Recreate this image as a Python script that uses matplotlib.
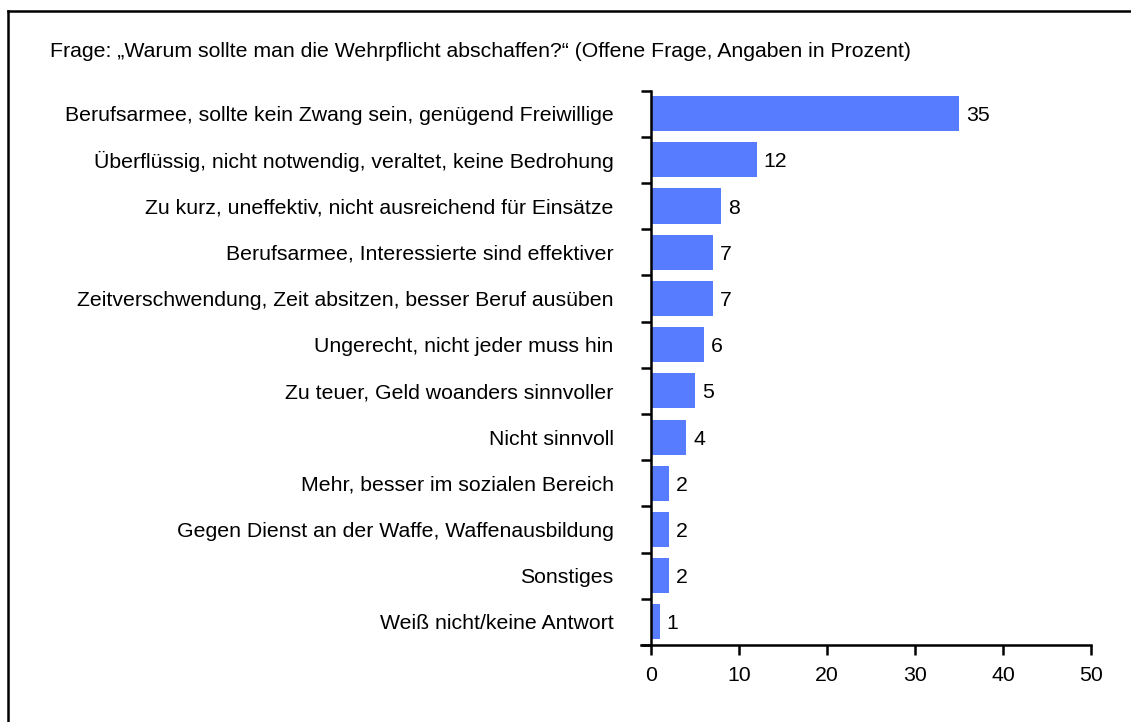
import matplotlib.pyplot as plt
from matplotlib.lines import Line2D
import numpy as np

plt.rcParams['font.family'] = ['Liberation Sans', 'DejaVu Sans']

categories = [
    'Berufsarmee, sollte kein Zwang sein, genügend Freiwillige',
    'Überflüssig, nicht notwendig, veraltet, keine Bedrohung',
    'Zu kurz, uneffektiv, nicht ausreichend für Einsätze',
    'Berufsarmee, Interessierte sind effektiver',
    'Zeitverschwendung, Zeit absitzen, besser Beruf ausüben',
    'Ungerecht, nicht jeder muss hin',
    'Zu teuer, Geld woanders sinnvoller',
    'Nicht sinnvoll',
    'Mehr, besser im sozialen Bereich',
    'Gegen Dienst an der Waffe, Waffenausbildung',
    'Sonstiges',
    'Weiß nicht/keine Antwort',
]
values = [35, 12, 8, 7, 7, 6, 5, 4, 2, 2, 2, 1]
xticks = [0, 10, 20, 30, 40, 50]

title = 'Frage: „Warum sollte man die Wehrpflicht abschaffen?“ (Offene Frage, Angaben in Prozent)'

fs = 15.3

fig = plt.figure(figsize=(11.31, 7.22), dpi=100)
ax = fig.add_axes([0.5756, 0.1066, 0.389, 0.768])

y = np.arange(len(categories))
ax.barh(y, values, height=0.76, color='#587CFF')
for yi, v in zip(y, values):
    ax.text(v + 0.8, yi, str(v), va='center_baseline', ha='left', fontsize=fs)

ax.set_xlim(0, 50)
ax.set_ylim(len(categories) - 0.5, -0.5)
ax.set_xticks(xticks)
ax.set_xticklabels([str(t) for t in xticks], fontsize=fs)
ax.set_yticks(np.arange(len(categories) + 1) - 0.5)
ax.set_yticklabels([])
ax.set_yticks(y, minor=True)
ax.set_yticklabels(categories, minor=True, fontsize=fs, va='center_baseline')
ax.tick_params(axis='y', which='major', length=7, width=1.8, direction='out')
ax.tick_params(axis='y', which='minor', length=0, pad=27)
ax.tick_params(axis='x', length=7, width=1.8, direction='out', pad=8)

for s in ['top', 'right']:
    ax.spines[s].set_visible(False)
for s in ['left', 'bottom']:
    ax.spines[s].set_linewidth(1.8)
ax.spines['bottom'].set_bounds(-1.15, 50)

fig.text(0.044, 0.928, title, fontsize=fs, va='center', ha='left')

# frame around the chart (only top and left visible in the crop)
fig.add_artist(Line2D([0.0075, 0.0075], [0, 0.985], transform=fig.transFigure, color='black', lw=1.8))
fig.add_artist(Line2D([0.0075, 1.0], [0.985, 0.985], transform=fig.transFigure, color='black', lw=1.8))

fig.savefig('out.png', dpi=100)
